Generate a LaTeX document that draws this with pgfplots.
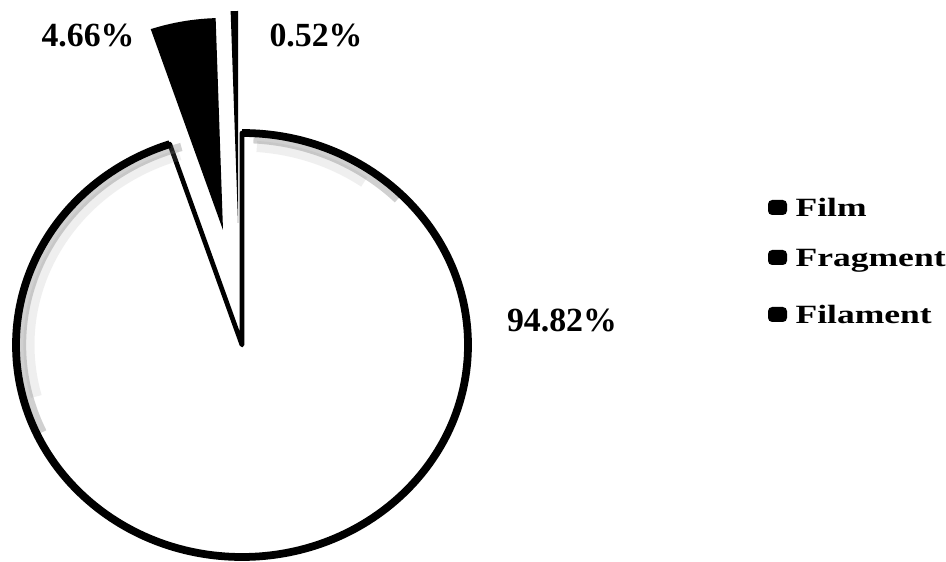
\documentclass[border=0pt]{standalone}
\usepackage{fontspec}
\setmainfont{Liberation Serif}
\usepackage{graphicx}
\usepackage{pgfplots}
\usepackage{pgfplotstable}
\pgfplotsset{compat=1.18}

% share of each form (%)
\pgfplotstableread{
name     value
Film     94.82
Fragment 4.66
Filament 0.52
}\piedata
\pgfplotstablegetelem{0}{value}\of\piedata \let\vFilm\pgfplotsretval
\pgfplotstablegetelem{1}{value}\of\piedata \let\vFrag\pgfplotsretval
\pgfplotstablegetelem{2}{value}\of\piedata \let\vFil\pgfplotsretval

% slice boundaries, clockwise from 12 o'clock
\pgfmathsetmacro\aStart{90}
\pgfmathsetmacro\aFilm{90-3.6*\vFilm}
\pgfmathsetmacro\aFrag{\aFilm-3.6*\vFrag}
\pgfmathsetmacro\aFil{\aFrag-3.6*\vFil}
\def\pxu{0.012685cm}
\pgfmathsetlengthmacro\rx{226*\pxu}
\pgfmathsetlengthmacro\ry{212*\pxu}
\pgfmathsetlengthmacro\rxi{220*\pxu}
\pgfmathsetlengthmacro\ryi{206*\pxu}
\pgfmathsetlengthmacro\rxj{213*\pxu}
\pgfmathsetlengthmacro\ryj{199*\pxu}

\newcommand\pct[1]{\bfseries\fontsize{12.2}{14}\selectfont #1}
\newcommand\leg[1]{\bfseries\fontsize{9.5}{11}\selectfont\scalebox{1.35}[1]{#1}}

\begin{document}
\begin{tikzpicture}
\begin{axis}[
hide axis,
x=\pxu, y=\pxu,
xmin=0, xmax=946,
ymin=0, ymax=561,
clip=false
]
\path (axis cs:0,0) rectangle (axis cs:946,561);

% Film
\filldraw[fill=white, draw=black, line width=1.7pt, line join=round]
  (axis cs:242,216) -- ++(\aStart:{\rx} and {\ry})
  arc[start angle=\aStart, end angle=\aFilm, x radius=\rx, y radius=\ry] -- cycle;
% scanned grey rim inside the arc
\draw[black!60, line width=3pt, opacity=0.3]
  (axis cs:242,216) ++(87:{\rxi} and {\ryi})
  arc[start angle=87, end angle=45, x radius=\rxi, y radius=\ryi];
\draw[black!60, line width=3pt, opacity=0.3]
  (axis cs:242,216) ++(106:{\rxi} and {\ryi})
  arc[start angle=106, end angle=205, x radius=\rxi, y radius=\ryi];
\draw[black!40, line width=4pt, opacity=0.15]
  (axis cs:242,216) ++(86:{\rxj} and {\ryj})
  arc[start angle=86, end angle=55, x radius=\rxj, y radius=\ryj];
\draw[black!40, line width=4pt, opacity=0.15]
  (axis cs:242,216) ++(107:{\rxj} and {\ryj})
  arc[start angle=107, end angle=195, x radius=\rxj, y radius=\ryj];
\draw[black, line width=2.8pt]
  (axis cs:242,216) ++(\aStart:{\rx} and {\ry})
  arc[start angle=\aStart, end angle=\aFilm, x radius=\rx, y radius=\ry];

% Fragment (exploded)
\fill[black]
  (axis cs:223,331) -- ++(\aFilm:{\rx} and {\ry})
  arc[start angle=\aFilm, end angle=\aFrag, x radius=\rx, y radius=\ry] -- cycle;

% Filament (exploded)
\fill[black]
  (axis cs:238,338) -- ++(\aFrag:{\rx} and {\ry})
  arc[start angle=\aFrag, end angle=\aFil, x radius=\rx, y radius=\ry] -- cycle;

% data labels
\node[anchor=base, inner sep=0pt] at (axis cs:88,514) {\pct{4.66\%}};
\node[anchor=base, inner sep=0pt] at (axis cs:316,514) {\pct{0.52\%}};
\node[anchor=base, inner sep=0pt] at (axis cs:562,229) {\pct{94.82\%}};

% legend
\fill[black, rounded corners=1.5pt] (axis cs:768,346) rectangle (axis cs:787,361);
\fill[black, rounded corners=1.5pt] (axis cs:768,296) rectangle (axis cs:787,311);
\fill[black, rounded corners=1.5pt] (axis cs:768,239) rectangle (axis cs:787,254);
\node[anchor=base west, inner sep=0pt] at (axis cs:795,344) {\leg{Film}};
\node[anchor=base west, inner sep=0pt] at (axis cs:795,294) {\leg{Fragment}};
\node[anchor=base west, inner sep=0pt] at (axis cs:795,237) {\leg{Filament}};
\end{axis}
\end{tikzpicture}
\end{document}
